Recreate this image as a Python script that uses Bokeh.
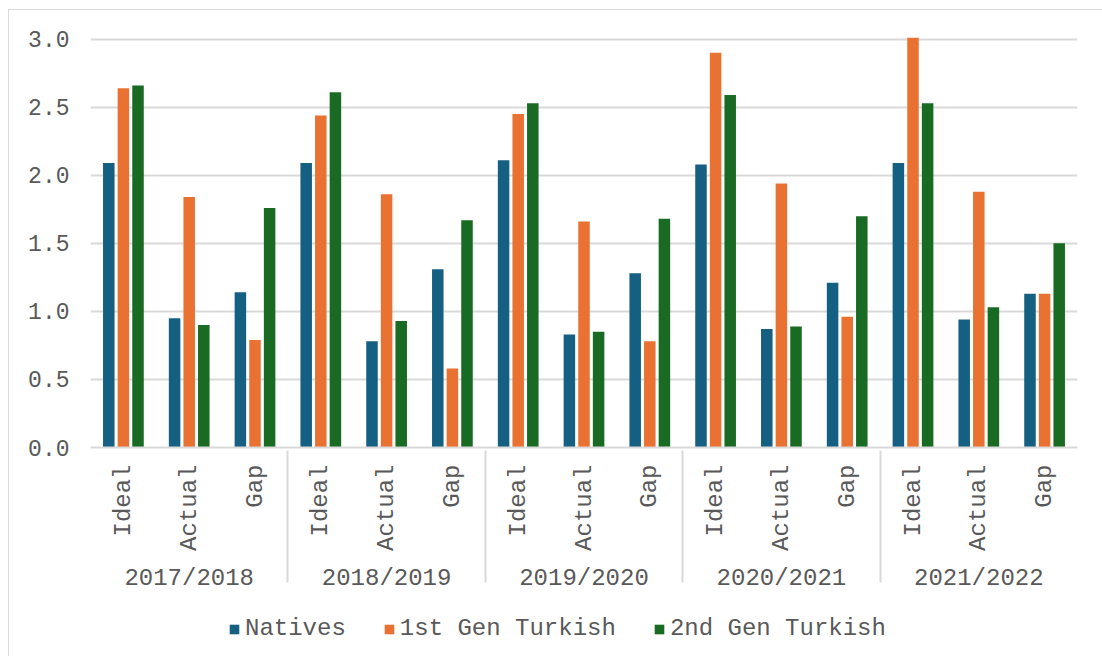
import math
from bokeh.plotting import figure
from bokeh.layouts import column
from bokeh.models import (ColumnDataSource, FactorRange, FixedTicker, NumeralTickFormatter,
                          Legend, LegendItem)
from bokeh.transform import dodge
from bokeh.embed import file_html
from bokeh.resources import INLINE

years = ["2017/2018", "2018/2019", "2019/2020", "2020/2021", "2021/2022"]
measures = ["Ideal", "Actual", "Gap"]
series_names = ["Natives", "1st Gen Turkish", "2nd Gen Turkish"]
natives = [2.09, 0.95, 1.14, 2.09, 0.78, 1.31, 2.11, 0.83, 1.28, 2.08, 0.87, 1.21, 2.09, 0.94, 1.13]
first_gen = [2.64, 1.84, 0.79, 2.44, 1.86, 0.58, 2.45, 1.66, 0.78, 2.90, 1.94, 0.96, 3.01, 1.88, 1.13]
second_gen = [2.66, 0.90, 1.76, 2.61, 0.93, 1.67, 2.53, 0.85, 1.68, 2.59, 0.89, 1.70, 2.53, 1.03, 1.50]
y_ticks = [0.0, 0.5, 1.0, 1.5, 2.0, 2.5, 3.0]

colors = ["#156082", "#E97132", "#196B24"]
FONT = "Liberation Mono"
TXT = "#595959"
GRID = "#d9d9d9"

factors = [(y, m) for y in years for m in measures]
src = ColumnDataSource(dict(x=factors, natives=natives, first=first_gen, second=second_gen))

xr = FactorRange(*factors, group_padding=0, range_padding=0, factor_padding=0)
p = figure(x_range=xr, y_range=(0, 3.02), width=1094, height=591,
           output_backend="svg", toolbar_location=None,
           min_border_left=81, min_border_right=26, min_border_top=26, min_border_bottom=154)
p.outline_line_color = None

renderers = []
for off, col, c in zip([-0.222, 0.0, 0.222], ["natives", "first", "second"], colors):
    r = p.vbar(x=dodge("x", off, range=p.x_range), top=col, width=0.175, source=src,
               fill_color=c, line_color=None)
    renderers.append(r)

p.yaxis.ticker = FixedTicker(ticks=y_ticks)
p.yaxis.formatter = NumeralTickFormatter(format="0.0")
p.yaxis.axis_line_color = None
p.yaxis.major_tick_line_color = None
p.yaxis.minor_tick_line_color = None
p.yaxis.major_label_standoff = 15
p.yaxis.major_label_text_font = FONT
p.yaxis.major_label_text_font_size = "23px"
p.yaxis.major_label_text_color = TXT

p.xgrid.grid_line_color = None
p.ygrid.grid_line_color = GRID
p.ygrid.grid_line_width = 2

xa = p.xaxis[0]
xa.axis_line_color = GRID
xa.axis_line_width = 2
xa.major_tick_line_color = None
xa.minor_tick_line_color = None
xa.major_label_orientation = math.pi / 2
xa.major_label_text_font = FONT
xa.major_label_text_font_size = "24px"
xa.major_label_text_color = TXT
xa.major_label_standoff = 11
xa.group_text_font = FONT
xa.group_text_font_size = "24px"
xa.group_text_color = TXT
xa.group_text_font_style = "normal"
xa.separator_line_color = GRID
xa.separator_line_width = 2

# legend strip below the chart
p2 = figure(width=1094, height=56, x_range=(0, 1), y_range=(0, 1),
            x_axis_type=None, y_axis_type=None, output_backend="svg", toolbar_location=None,
            min_border=0)
p2.outline_line_color = None
p2.xgrid.grid_line_color = None
p2.ygrid.grid_line_color = None
swatches = [p2.vbar(x=[0.5], top=[0], bottom=[0], width=0, fill_color=c, line_color=None) for c in colors]
legend = Legend(items=[LegendItem(label=n, renderers=[r]) for n, r in zip(series_names, swatches)],
                orientation="horizontal", location=(138, 15),
                label_text_font=FONT, label_text_font_size="24px", label_text_color=TXT,
                glyph_width=12, glyph_height=12, label_standoff=5, spacing=37,
                border_line_color=None, background_fill_alpha=0, margin=0, padding=4)
p2.add_layout(legend)

layout = column(p, p2, spacing=0, margin=(9, 0, 0, 8),
                styles={"border-left": "1px solid #d9d9d9", "border-top": "1px solid #d9d9d9"})

open("out.html", "w").write(file_html(layout, INLINE))
